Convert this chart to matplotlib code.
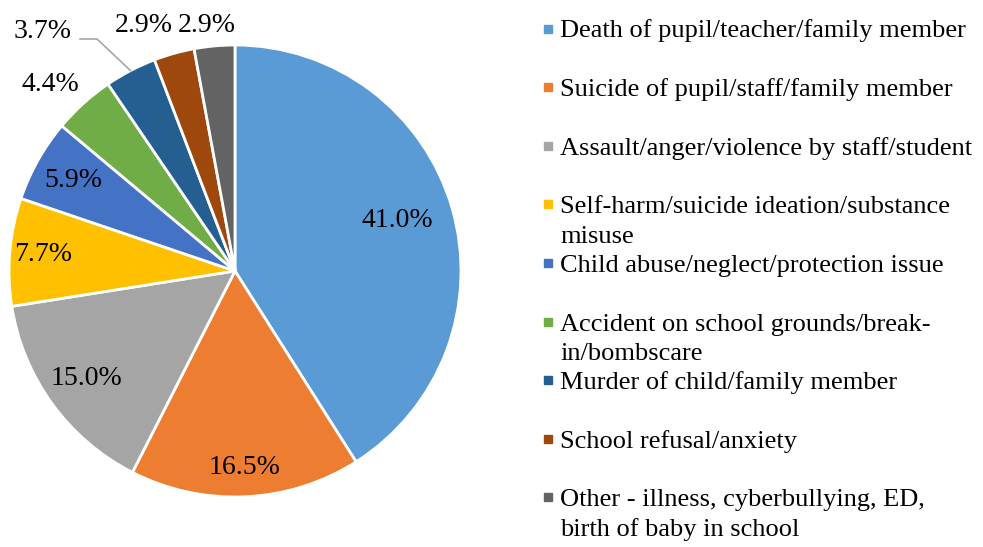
import numpy as np
import matplotlib.pyplot as plt

plt.rcParams['font.family'] = ['Liberation Serif', 'DejaVu Serif']

categories = [
    "Death of pupil/teacher/family member",
    "Suicide of pupil/staff/family member",
    "Assault/anger/violence by staff/student",
    "Self-harm/suicide ideation/substance\nmisuse",
    "Child abuse/neglect/protection issue",
    "Accident on school grounds/break-\nin/bombscare",
    "Murder of child/family member",
    "School refusal/anxiety",
    "Other - illness, cyberbullying, ED,\nbirth of baby in school",
]
shares = [41.0, 16.5, 15.0, 7.7, 5.9, 4.4, 3.7, 2.9, 2.9]
colors = ["#5B9BD5", "#ED7D31", "#A5A5A5", "#FFC000", "#4472C4",
          "#70AD47", "#255E91", "#9E480E", "#636363"]

# label placement: radius (in pie radii) and angle shift (deg) from the wedge middle
label_r = [0.75, 0.87, 0.81, 0.85, 0.82, 1.16, 1.36, 1.16, 1.095]
label_shift = [1, 0, 0, 0, 0, 2.6, 11.3, 4.8, 1.3]

W, H = 983, 547
fig = plt.figure(figsize=(W / 100, H / 100), dpi=100)
cx, cy, R = 235, 271, 226
ax = fig.add_axes([(cx - R) / W, (H - cy - R) / H, 2 * R / W, 2 * R / H])

wedges, _ = ax.pie(shares, colors=colors, startangle=90, counterclock=False,
                   radius=1, wedgeprops=dict(edgecolor="white", linewidth=2))
ax.set_xlim(-1, 1)
ax.set_ylim(-1, 1)
ax.axis("off")

for i, (w, v) in enumerate(zip(wedges, shares)):
    mid = (w.theta1 + w.theta2) / 2
    a = np.deg2rad(mid + label_shift[i])
    ax.text(label_r[i] * np.cos(a), label_r[i] * np.sin(a), f"{v:.1f}%",
            ha="center", va="center", fontsize=20, color="black")
    if i == 6:
        # leader line for the 3.7% label
        m = np.deg2rad(mid)
        x0, y0 = np.cos(m), np.sin(m)
        xk, yk = (97 - cx) / R, (cy - 39) / R
        xe = (80 - cx) / R
        ax.plot([x0, xk, xe], [y0, yk, yk], color="#A6A6A6", lw=1.2,
                clip_on=False)

# legend drawn by hand, one text per line so wrapped entries hang below
step = 58.6
for i, (lab, c) in enumerate(zip(categories, colors)):
    yc = 28.5 + i * step
    fig.patches.append(plt.Rectangle((544 / W, 1 - (yc + 4) / H), 8 / W, 8 / H,
                                     transform=fig.transFigure, color=c))
    for k, line in enumerate(lab.split("\n")):
        fig.text(560 / W, 1 - (yc + 9 + k * 30) / H, line, fontsize=19,
                 ha="left", va="baseline")

fig.savefig("out.png", dpi=100)
